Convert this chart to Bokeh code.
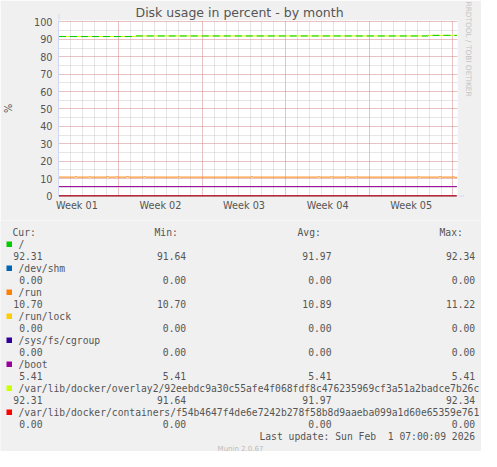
from bokeh.plotting import figure
from bokeh.layouts import column
from bokeh.models import Range1d, FixedTicker, SingleIntervalTicker, Title, Arrow, NormalHead
from bokeh.embed import file_html
from bokeh.resources import INLINE
from bokeh.core.properties import value

# ---------------- data ----------------
series_names = [
    "/",
    "/dev/shm",
    "/run",
    "/run/lock",
    "/sys/fs/cgroup",
    "/boot",
    "/var/lib/docker/overlay2/92eebdc9a30c55afe4f068fdf8c476235969cf3a51a2badce7b26c",
    "/var/lib/docker/containers/f54b4647f4de6e7242b278f58b8d9aaeba099a1d60e65359e761",
]
series_colors = ["#00CC00", "#0066B3", "#FF8000", "#FFCC00", "#330099", "#990099", "#CCFF00", "#FF0000"]
cur_vals = [92.31, 0.00, 10.70, 0.00, 0.00, 5.41, 92.31, 0.00]
min_vals = [91.64, 0.00, 10.70, 0.00, 0.00, 5.41, 91.64, 0.00]
avg_vals = [91.97, 0.00, 10.89, 0.00, 0.00, 5.41, 91.97, 0.00]
max_vals = [92.34, 0.00, 11.22, 0.00, 0.00, 5.41, 92.34, 0.00]
column_heads = ["Cur:", "Min:", "Avg:", "Max:"]
last_update = "Last update: Sun Feb\u00a0 1 07:00:09 2026"

week_labels = ["Week 01", "Week 02", "Week 03", "Week 04", "Week 05"]
week_centres = [1.5, 8.5, 15.5, 22.5, 29.5]      # days from graph start
week_starts = [5, 12, 19, 26, 33]
day_marks = list(range(0, 34))

# "/" and overlay2 (same filesystem)
root_days = [0.0, 6.4, 6.45, 30.9, 30.95, 32.4, 32.5, 32.6, 33.33]
root_pct = [91.64, 91.64, 91.97, 91.97, 92.31, 92.31, 92.34, 92.31, 92.31]
overlay_days = root_days
overlay_pct = root_pct

# /run
run_days = [0.0, 1.3, 1.42, 1.55, 2.45, 2.58, 2.7, 3.95, 4.08, 4.2, 4.7, 4.83, 4.95,
            5.62, 5.75, 5.88, 7.05, 7.17, 7.3, 9.95, 10.08, 10.2, 16.05, 16.17, 16.3,
            21.62, 21.75, 21.88, 22.7, 22.83, 22.95, 24.05, 24.17, 24.3, 24.8, 24.92,
            25.05, 30.05, 30.17, 30.3, 31.8, 31.92, 32.05, 32.95, 33.08, 33.2, 33.33]
run_pct = [10.85, 10.85, 11.15, 10.85, 10.85, 11.10, 10.85, 10.85, 11.15, 10.85, 10.85, 11.05, 10.85,
           10.85, 11.22, 10.85, 10.85, 11.10, 10.85, 10.85, 11.05, 10.85, 10.85, 11.10, 10.85,
           10.85, 11.15, 10.85, 10.85, 11.10, 10.85, 10.85, 11.15, 10.85, 10.85, 11.05,
           10.85, 10.85, 11.10, 10.85, 10.85, 11.15, 10.85, 10.85, 11.05, 10.70, 10.70]

boot_days = [0.0, 33.33]
boot_pct = [5.41, 5.41]
zero_days = [0.0, 33.33]
shm_pct = [0.0, 0.0]
lock_pct = [0.0, 0.0]
cgroup_pct = [0.0, 0.0]
containers_pct = [0.0, 0.0]

# ---------------- styling ----------------
W = 481
CH = 220
LH = 231
BG = "#F0F0F0"
TXT = "#555555"
AX = "#CFD6F8"
FONT = "DejaVu Sans"
MONO = "DejaVu Sans Mono"

p = figure(width=W, height=CH, output_backend="svg", toolbar_location=None,
           x_range=Range1d(-0.04, 33.38), y_range=Range1d(-0.29, 100.86),
           min_border_left=58, min_border_right=22, min_border_top=20, min_border_bottom=24,
           background_fill_color="#FFFFFF", border_fill_color=BG, outline_line_color=None)

p.title.text = "Disk usage in percent - by month"
p.title.text_font = FONT
p.title.text_font_size = "12.5px"
p.title.text_font_style = "normal"
p.title.text_color = TXT
p.title.align = "left"
p.title.offset = 77
p.title.standoff = 2

# y axis
p.yaxis.ticker = SingleIntervalTicker(interval=10, num_minor_ticks=2)
p.yaxis.major_tick_out = 0
p.yaxis.major_tick_in = 0
p.yaxis.minor_tick_out = 0
p.yaxis.minor_tick_in = 0
p.yaxis.major_label_standoff = 6
p.yaxis.axis_line_color = AX
p.yaxis.major_label_text_font = FONT
p.yaxis.major_label_text_font_size = "9.7px"
p.yaxis.major_label_text_color = TXT
p.yaxis.axis_label = "%"
p.yaxis.axis_label_text_font = FONT
p.yaxis.axis_label_text_font_size = "9.7px"
p.yaxis.axis_label_text_font_style = "normal"
p.yaxis.axis_label_text_color = TXT
p.yaxis.axis_label_standoff = 17

# x axis
p.xaxis.ticker = FixedTicker(ticks=week_centres)
p.xaxis.major_label_overrides = {c: l for c, l in zip(week_centres, week_labels)}
p.xaxis.major_tick_out = 0
p.xaxis.major_tick_in = 0
p.xaxis.minor_tick_out = 0
p.xaxis.minor_tick_in = 0
p.xaxis.axis_line_color = None
p.xaxis.major_label_standoff = 3
p.xaxis.major_label_text_font = FONT
p.xaxis.major_label_text_font_size = "9.7px"
p.xaxis.major_label_text_color = TXT

# grids
p.xgrid.ticker = FixedTicker(ticks=week_starts, minor_ticks=day_marks)
p.xgrid.grid_line_color = "#FF0000"
p.xgrid.grid_line_alpha = 0.3
p.xgrid.grid_line_dash = "1 1"
p.xgrid.minor_grid_line_color = "#C0C0C0"
p.xgrid.minor_grid_line_alpha = 0.8
p.xgrid.minor_grid_line_dash = "1 1"
p.ygrid.grid_line_color = "#FF0000"
p.ygrid.grid_line_alpha = 0.3
p.ygrid.grid_line_dash = "1 1"
p.ygrid.minor_grid_line_color = "#C0C0C0"
p.ygrid.minor_grid_line_alpha = 0.8
p.ygrid.minor_grid_line_dash = "1 1"

# right-side credit
p.add_layout(Title(text="RRDTOOL / TOBI OETIKER", text_font=FONT, text_font_size="7.4px",
                   text_font_style="normal", text_color="#C4C4C4", align="left",
                   standoff=13, offset=-19), "right")

# axis arrows
p.add_layout(Arrow(end=NormalHead(size=5, fill_color=AX, line_color=AX),
                   x_start=0, y_start=100.0, x_end=0, y_end=104.5, line_color=AX, line_width=1))
p.add_layout(Arrow(end=NormalHead(size=5, fill_color=AX, line_color=AX),
                   x_start=33.3, y_start=0, x_end=33.95, y_end=0, line_color=AX, line_width=1))

# series lines (draw order so the overlap looks like the original)
p.line(zero_days, shm_pct, line_color=series_colors[1], line_width=1)
p.line(zero_days, lock_pct, line_color=series_colors[3], line_width=1)
p.line(zero_days, cgroup_pct, line_color=series_colors[4], line_width=1)
p.line(run_days, run_pct, line_color=series_colors[2], line_width=1)
p.line(boot_days, boot_pct, line_color=series_colors[5], line_width=1)
p.line(overlay_days, overlay_pct, line_color=series_colors[6], line_width=1)
p.line(root_days, root_pct, line_color=series_colors[0], line_width=1, line_dash="7 4")
p.line(zero_days, containers_pct, line_color=series_colors[7], line_width=1)

# ---------------- legend block ----------------
lg = figure(width=W, height=LH, output_backend="svg", toolbar_location=None,
            x_range=Range1d(8, 489), y_range=Range1d(459, 228),
            min_border=0, border_fill_color=BG, background_fill_color=BG,
            outline_line_color=None, x_axis_location=None, y_axis_location=None, title=None)
lg.grid.visible = False

# do not align the legend's frame with the chart's frame
for fig in (p, lg):
    try:
        fig.frame_align = False
    except Exception:
        pass

lg.text(x=[20, 162, 305, 447], y=[239.7] * 4, text=column_heads,
        text_font=value(MONO), text_font_size="9.7px", text_baseline="middle",
        text_align="left", text_color=TXT)

n = len(series_names)
label_y = [251.7 + 24 * i for i in range(n)]
value_y = [263.7 + 24 * i for i in range(n)]
lg.quad(left=[14] * n, right=[19.5] * n, top=[y - 2.7 for y in label_y],
        bottom=[y + 2.7 for y in label_y], fill_color=series_colors, line_color=None)
lg.text(x=[26] * n, y=label_y, text=series_names, text_font=value(MONO), text_font_size="9.7px",
        text_baseline="middle", text_align="left", text_color=TXT)
for col_x, vals in zip([50, 193.7, 339, 482.7], [cur_vals, min_vals, avg_vals, max_vals]):
    lg.text(x=[col_x] * n, y=value_y, text=["%.2f" % v for v in vals], text_font=value(MONO),
            text_font_size="9.7px", text_baseline="middle", text_align="right", text_color=TXT)

lg.text(x=[482.7], y=[443.7], text=[last_update], text_font=value(MONO),
        text_font_size="9.7px", text_baseline="middle", text_align="right", text_color=TXT)
lg.text(x=[248], y=[456], text=["Munin 2.0.67"], text_font=value(FONT), text_font_size="7px",
        text_baseline="middle", text_align="center", text_color="#BBBBBB")

layout = column(p, lg, spacing=0)
open("out.html", "w").write(file_html(layout, INLINE))
